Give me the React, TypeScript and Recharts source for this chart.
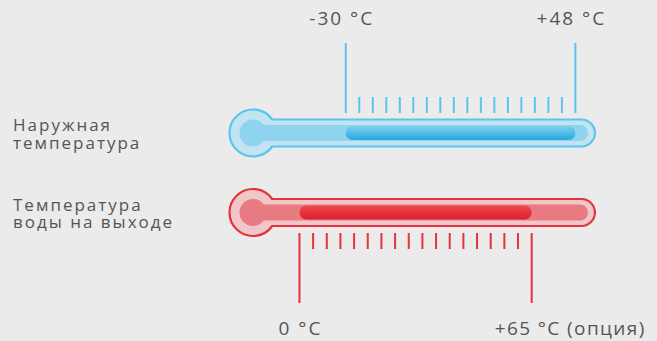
import React from 'react';
import { ComposedChart, Bar, XAxis, YAxis } from 'recharts';

// rows of the infographic
const ROW_LABELS = ['Наружная\nтемпература', 'Температура\nводы на выходе'];
const OUTDOOR_RANGE = [-30, 48];
const WATER_RANGE = [0, 65];
// full thermometer body (bulb -> tip) expressed on each scale
const OUTDOOR_SCALE = [-70, 55];
const WATER_SCALE = [-20, 83];
const RANGE_NOTES = ['', '(опция)'];
const TICK_STEPS = 17;

const BLUE = { stroke: '#5bc4ea', shell: '#c2e4f2', core: '#8fd3ef', top: '#7ed0f1', bottom: '#28a8de' };
const RED = { stroke: '#e5323c', shell: '#f0c6c9', core: '#e87b81', top: '#f1474f', bottom: '#dc212b' };
const TEXT = '#555555';
const FONT = '"Open Sans", sans-serif';

const data = [
  { label: ROW_LABELS[0], outBody: OUTDOOR_SCALE, outRange: OUTDOOR_RANGE },
  { label: ROW_LABELS[1], waterBody: WATER_SCALE, waterRange: WATER_RANGE },
];

const scaleTicks = ([lo, hi]: number[]) =>
  Array.from({ length: TICK_STEPS + 1 }, (_, i) => lo + ((hi - lo) * i) / TICK_STEPS);

const fmt = (v: number) => `${v > 0 ? '+' : ''}${v} °C`;

const ok = (p: any) => Number.isFinite(p.x) && Number.isFinite(p.width) && p.width > 0;

const bodyShape = (theme: typeof BLUE) => (props: any) => {
  if (!ok(props)) return <g />;
  const { x, y, width, height } = props;
  const cy = y + height / 2;
  const bx = x + 25;
  const R = 23.5;
  const h = 13.5;
  const right = x + width - 1;
  const dx = Math.sqrt(R * R - h * h);
  const d = `M${bx + dx},${cy - h} L${right - h},${cy - h} A${h},${h} 0 0 1 ${right - h},${cy + h} L${bx + dx},${cy + h} A${R},${R} 0 1 1 ${bx + dx},${cy - h} Z`;
  return (
    <g>
      <path d={d} fill={theme.shell} stroke={theme.stroke} strokeWidth={2.2} />
      <circle cx={bx} cy={cy} r={13.5} fill={theme.core} />
      <rect x={bx} y={cy - 8} width={right - 7 - bx} height={16} rx={8} fill={theme.core} />
    </g>
  );
};

const rangeShape = (gradId: string) => (props: any) => {
  if (!ok(props)) return <g />;
  const { x, y, width, height } = props;
  const cy = y + height / 2;
  return <rect x={x} y={cy - 7} width={width} height={14} rx={7} fill={`url(#${gradId})`} />;
};

// scale ticks: long marks with labels at the range ends, short ones between
const makeTick = (range: number[], color: string, top: boolean) => (props: any) => {
  const { x, y, index } = props;
  const last = index === TICK_STEPS;
  const end = index === 0 || last;
  const base = top ? y + 20 : y - 19;
  const len = end ? 70 : 16;
  const y2 = top ? base - len : base + len;
  const note = RANGE_NOTES[top ? 0 : 1];
  const withNote = last && !!note;
  return (
    <g>
      <line x1={x} x2={x} y1={base} y2={y2} stroke={color} strokeWidth={2} />
      {end && (
        <text
          x={withNote ? x - 37 : top ? x - 4 : x + 1}
          y={top ? y - 68 : y + 83}
          textAnchor={withNote ? 'start' : 'middle'}
          fill={TEXT}
          fontSize={19}
          fontFamily={FONT}
          letterSpacing={withNote ? 1.4 : 2}
        >
          {fmt(range[last ? 1 : 0])}
          {withNote ? ` ${note}` : ''}
        </text>
      )}
    </g>
  );
};

const RowLabel = (props: any) => {
  const { y, payload } = props;
  const lines = String(payload.value).split('\n');
  return (
    <text x={13} y={y} fill={TEXT} fontSize={17} fontFamily={FONT} letterSpacing={2}>
      {lines.map((l, i) => (
        <tspan key={i} x={13} dy={i === 0 ? -1.5 : 17.5}>
          {l}
        </tspan>
      ))}
    </text>
  );
};

export default function App() {
  return (
    <div style={{ position: 'fixed', left: 0, top: 0, width: 657, height: 341, background: '#ebebeb' }}>
      <ComposedChart
        width={657}
        height={341}
        data={data}
        layout="vertical"
        margin={{ top: 0, right: 61, bottom: 0, left: 0 }}
        barSize={28}
        barGap={-28}
      >
        <defs>
          <linearGradient id="blueFill" x1="0" y1="0" x2="0" y2="1">
            <stop offset="0%" stopColor={BLUE.top} />
            <stop offset="100%" stopColor={BLUE.bottom} />
          </linearGradient>
          <linearGradient id="redFill" x1="0" y1="0" x2="0" y2="1">
            <stop offset="0%" stopColor={RED.top} />
            <stop offset="100%" stopColor={RED.bottom} />
          </linearGradient>
        </defs>
        <XAxis
          xAxisId="out"
          type="number"
          orientation="top"
          domain={OUTDOOR_SCALE}
          allowDataOverflow
          ticks={scaleTicks(OUTDOOR_RANGE)}
          interval={0}
          height={93}
          tickSize={0}
          tickMargin={0}
          axisLine={false}
          tickLine={false}
          tick={makeTick(OUTDOOR_RANGE, BLUE.stroke, true)}
        />
        <XAxis
          xAxisId="water"
          type="number"
          orientation="bottom"
          domain={WATER_SCALE}
          allowDataOverflow
          ticks={scaleTicks(WATER_RANGE)}
          interval={0}
          height={89}
          tickSize={0}
          tickMargin={0}
          axisLine={false}
          tickLine={false}
          tick={makeTick(WATER_RANGE, RED.stroke, false)}
        />
        <YAxis type="category" dataKey="label" width={228} axisLine={false} tickLine={false} tick={RowLabel} />
        <Bar xAxisId="out" dataKey="outBody" shape={bodyShape(BLUE)} isAnimationActive={false} />
        <Bar xAxisId="out" dataKey="outRange" shape={rangeShape('blueFill')} isAnimationActive={false} />
        <Bar xAxisId="water" dataKey="waterBody" shape={bodyShape(RED)} isAnimationActive={false} />
        <Bar xAxisId="water" dataKey="waterRange" shape={rangeShape('redFill')} isAnimationActive={false} />
      </ComposedChart>
    </div>
  );
}
